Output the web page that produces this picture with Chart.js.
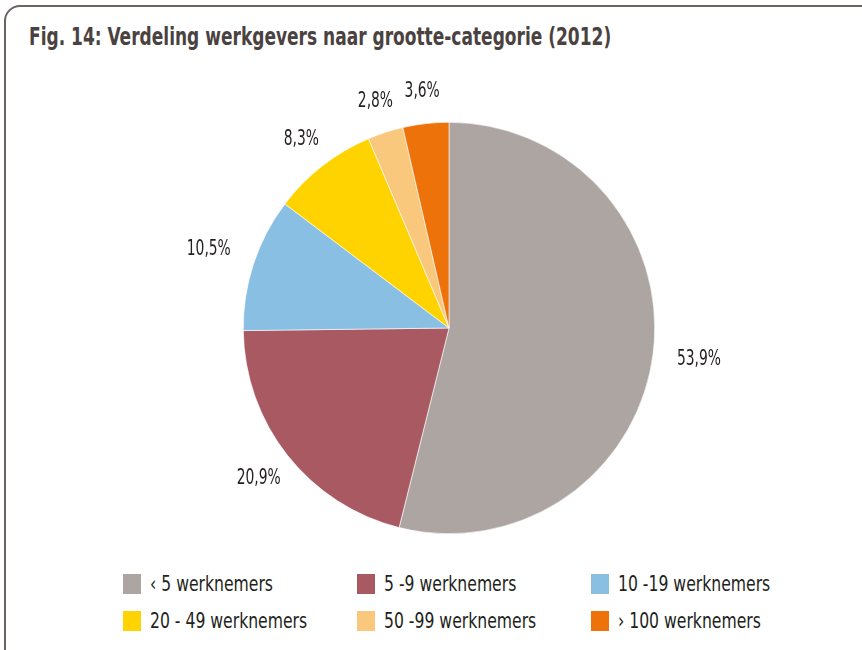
<!DOCTYPE html>
<html>
<head>
<meta charset="utf-8">
<script src="https://cdn.jsdelivr.net/npm/chart.js@4"></script>
<style>
  body { margin: 0; background: #fff; font-family: "DejaVu Sans Condensed", "DejaVu Sans", sans-serif; color: #231f20; }
  #page { position: relative; width: 862px; height: 650px; overflow: hidden; }
  #frame { position: absolute; left: 4px; top: 5px; width: 900px; height: 700px; border: 2px solid #6b6461; border-radius: 16px; }
  #title { position: absolute; left: 29px; top: 22px; font-size: 25px; font-weight: bold; color: #4a4240; white-space: nowrap; transform: scaleX(0.757); transform-origin: left center; }
  #wrap { position: absolute; left: 0; top: 0; width: 862px; height: 560px; }
  #legend { position: absolute; left: 123px; top: 573px; display: grid; grid-template-columns: 234px 234px 234px; row-gap: 16px; }
  .item { display: flex; align-items: center; font-size: 22px; height: 21px; white-space: nowrap; }
  .sw { width: 18px; height: 20px; margin-right: 9px; flex: none; }
  .txt { display: inline-block; transform: scaleX(0.79); transform-origin: left center; }
</style>
</head>
<body>
<div id="page">
  <div id="frame"></div>
  <div id="title">Fig. 14: Verdeling werkgevers naar grootte-categorie (2012)</div>
  <div id="wrap"><canvas id="pieChart"></canvas></div>
  <div id="legend"></div>
</div>
<script>
var categories = ['\u2039 5 werknemers', '5 -9 werknemers', '10 -19 werknemers', '20 - 49 werknemers', '50 -99 werknemers', '\u203A 100 werknemers'];
var shares = [53.9, 20.9, 10.5, 8.3, 2.8, 3.6];
var colors = ['#aca5a2', '#a95961', '#88bfe2', '#ffd300', '#f9c87c', '#ec7209'];

// percentage labels just outside each slice, squeezed to a narrow look
var outsideLabels = {
    id: 'outsideLabels',
    afterDatasetsDraw: function (chart) {
        var c = chart.ctx;
        var arcs = chart.getDatasetMeta(0).data;
        var squeeze = 0.7;
        c.save();
        c.font = '22px "DejaVu Sans Condensed", "DejaVu Sans", sans-serif';
        c.fillStyle = '#231f20';
        c.textAlign = 'center';
        c.textBaseline = 'middle';
        arcs.forEach(function (arc, i) {
            var text = shares[i].toFixed(1).replace('.', ',') + '%';
            var a = (arc.startAngle + arc.endAngle) / 2;
            var ux = Math.cos(a), uy = Math.sin(a);
            var hw = c.measureText(text).width * squeeze / 2, hh = 8;
            var d = arc.outerRadius + 24 + Math.min(hw / Math.max(Math.abs(ux), 0.01), hh / Math.max(Math.abs(uy), 0.01));
            var x = arc.x + ux * d, y = arc.y + uy * d;
            c.save();
            c.translate(x, y);
            c.scale(squeeze, 1);
            c.fillText(text, 0, 0);
            c.restore();
        });
        c.restore();
    }
};

var ctx = document.getElementById('pieChart').getContext('2d');
var myChart = new Chart(ctx, {
    type: 'pie',
    data: {
        labels: categories,
        datasets: [{
            data: shares,
            backgroundColor: colors,
            borderColor: '#ffffff',
            borderWidth: 0.6
        }]
    },
    options: {
        responsive: true,
        maintainAspectRatio: false,
        animation: false,
        layout: { padding: { top: 122, bottom: 26, left: 36, right: 0 } },
        plugins: {
            legend: { display: false },
            tooltip: { enabled: false }
        }
    },
    plugins: [outsideLabels]
});

var legend = document.getElementById('legend');
categories.forEach(function (name, i) {
    var item = document.createElement('div');
    item.className = 'item';
    var sw = document.createElement('span');
    sw.className = 'sw';
    sw.style.background = colors[i];
    var txt = document.createElement('span');
    txt.className = 'txt';
    txt.textContent = name;
    item.appendChild(sw);
    item.appendChild(txt);
    legend.appendChild(item);
});
</script>
</body>
</html>
